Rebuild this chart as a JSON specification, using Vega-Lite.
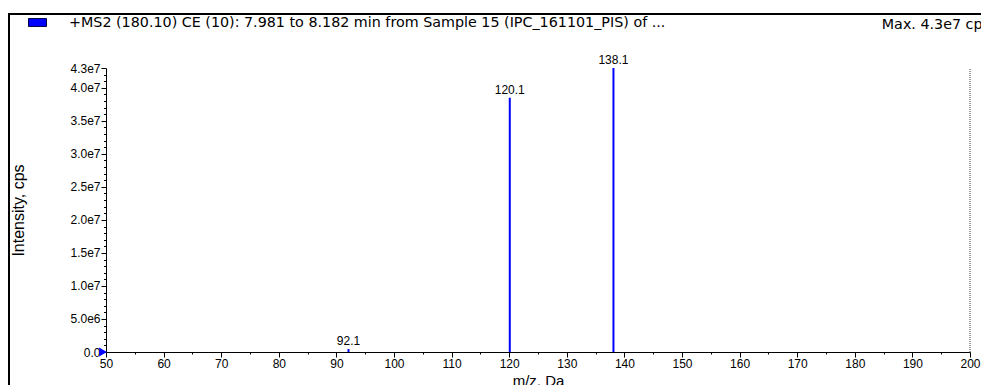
{
  "$schema": "https://vega.github.io/schema/vega-lite/v6.json",
  "width": 981,
  "height": 380,
  "autosize": {"type": "none"},
  "padding": {"left": 9, "top": 14, "right": 0, "bottom": 0},
  "background": "white",
  "config": {
    "view": {"stroke": "#000000", "strokeWidth": 2},
    "font": "Liberation Sans",
    "axis": {"labelOverlap": false, "labelBound": false, "labelFlush": false, "grid": false}
  },
  "title": {
    "text": "Max. 4.3e7 cps",
    "anchor": "end",
    "frame": "group",
    "offset": -19,
    "font": "DejaVu Sans",
    "fontSize": 14.3,
    "fontWeight": "normal",
    "color": "#000000"
  },
  "datasets": {
    "peaks": [
      {"mz": 92.1, "intensity": 450000, "label": "92.1"},
      {"mz": 120.1, "intensity": 38500000, "label": "120.1"},
      {"mz": 138.1, "intensity": 43000000, "label": "138.1"}
    ],
    "marker": [
      {"mz": 50, "intensity": 0, "series": "+MS2 (180.10) CE (10): 7.981 to 8.182 min from Sample 15 (IPC_161101_PIS) of ..."}
    ],
    "edge": [
      {"mz": 200, "low": 0, "high": 43000000}
    ]
  },
  "layer": [
    {
      "data": {"name": "peaks"},
      "mark": {"type": "rule", "color": "#0000ff", "strokeWidth": 2},
      "encoding": {
        "x": {
          "field": "mz",
          "type": "quantitative",
          "title": "m/z, Da",
          "scale": {"domain": [50, 200], "range": [97, 961], "nice": false, "zero": false},
          "axis": {
            "values": [50, 55, 60, 65, 70, 75, 80, 85, 90, 95, 100, 105, 110, 115, 120, 125, 130, 135, 140, 145, 150, 155, 160, 165, 170, 175, 180, 185, 190, 195, 200],
            "tickCount": 200,
            "format": "d",
            "labelExpr": "datum.value % 10 === 0 ? datum.label : ''",
            "offset": -42,
            "tickSize": {"condition": {"test": "datum.value % 10 === 0", "value": 5}, "value": 2},
            "tickColor": "#000000",
            "domainColor": "#000000",
            "labelColor": "#000000",
            "labelFontSize": 12,
            "labelPadding": 1,
            "labelOverlap": false,
            "labelBound": false,
            "labelFlush": false,
            "grid": false,
            "titleFontSize": 15,
            "titleFontWeight": "normal",
            "titleColor": "#000000",
            "titlePadding": 4
          }
        },
        "y": {
          "field": "intensity",
          "type": "quantitative",
          "title": "Intensity, cps",
          "scale": {"domain": [0, 43000000], "range": [338, 54], "nice": false, "zero": true},
          "axis": {
            "values": [0, 1000000, 2000000, 3000000, 4000000, 5000000, 6000000, 7000000, 8000000, 9000000, 10000000, 11000000, 12000000, 13000000, 14000000, 15000000, 16000000, 17000000, 18000000, 19000000, 20000000, 21000000, 22000000, 23000000, 24000000, 25000000, 26000000, 27000000, 28000000, 29000000, 30000000, 31000000, 32000000, 33000000, 34000000, 35000000, 36000000, 37000000, 38000000, 39000000, 40000000, 41000000, 42000000, 43000000],
            "tickCount": 200,
            "labelExpr": "datum.value === 0 ? '0.0' : ((datum.value % 5000000 === 0 || datum.value === 43000000) ? replace(format(datum.value, '.1e'), 'e+', 'e') : '')",
            "labelFontSize": {"condition": {"test": "datum.value % 5000000 === 0 || datum.value === 43000000", "value": 12}, "value": 1},
            "offset": -97,
            "tickSize": {"condition": {"test": "datum.value % 5000000 === 0 || datum.value === 43000000", "value": 5}, "value": 2.5},
            "tickColor": "#000000",
            "domainColor": "#000000",
            "labelColor": "#000000",
            "labelPadding": 1,
            "labelOverlap": false,
            "labelBound": false,
            "labelFlush": false,
            "grid": false,
            "titleFontSize": 16,
            "titleFontWeight": "normal",
            "titleColor": "#000000",
            "titleX": -88,
            "titleBaseline": "middle"
          }
        },
        "y2": {"datum": 0}
      }
    },
    {
      "data": {"name": "peaks"},
      "mark": {"type": "text", "baseline": "bottom", "align": "center", "dy": -1, "fontSize": 12, "color": "#000000"},
      "encoding": {
        "x": {"field": "mz", "type": "quantitative"},
        "y": {"field": "intensity", "type": "quantitative"},
        "text": {"field": "label"}
      }
    },
    {
      "data": {"name": "edge"},
      "mark": {"type": "rule", "color": "#808080", "strokeDash": [1, 1], "strokeWidth": 1.5},
      "encoding": {
        "x": {"field": "mz", "type": "quantitative"},
        "y": {"field": "low", "type": "quantitative"},
        "y2": {"field": "high"}
      }
    },
    {
      "data": {"name": "marker"},
      "mark": {"type": "point", "shape": "triangle-right", "filled": true, "size": 80, "opacity": 1, "xOffset": -3},
      "encoding": {
        "x": {"field": "mz", "type": "quantitative"},
        "y": {"field": "intensity", "type": "quantitative"},
        "color": {
          "field": "series",
          "type": "nominal",
          "scale": {"range": ["#0000ff"]},
          "legend": {
            "orient": "none",
            "legendX": 19,
            "legendY": -1,
            "title": null,
            "padding": 0,
            "symbolType": "M-1,-0.44L1,-0.44L1,0.44L-1,0.44Z",
            "symbolSize": 324,
            "symbolFillColor": "#0000ff",
            "symbolStrokeColor": "#000040",
            "symbolStrokeWidth": 1,
            "symbolOpacity": 1,
            "labelFont": "DejaVu Sans",
            "labelFontSize": 14.3,
            "labelColor": "#000000",
            "labelLimit": 900,
            "labelOffset": 22
          }
        }
      }
    }
  ]
}
